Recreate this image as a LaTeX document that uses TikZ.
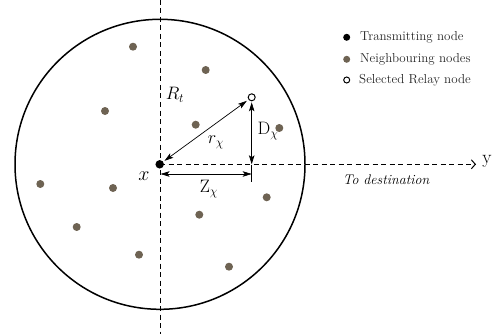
\RequirePackage{fix-cm}
\documentclass[tikz,border=0pt]{standalone}
\usepackage{fontspec}
\usetikzlibrary{arrows.meta}
\definecolor{nbrcol}{HTML}{6E6353}
\definecolor{legtext}{HTML}{262626}
\begin{document}
\begin{tikzpicture}[x=1pt,y=-1pt,
  nbr/.style={circle,fill=nbrcol,minimum size=8pt,inner sep=0pt},
  txnode/.style={circle,fill=black,minimum size=8.5pt,inner sep=0pt},
  relay/.style={circle,draw=black,fill=white,line width=1pt,minimum size=7pt,inner sep=0pt},
  axis/.style={dashed,dash pattern=on 5pt off 3.5pt,line width=0.8pt},
  dim/.style={line width=0.7pt,{Stealth[length=9pt,width=5.5pt,inset=2pt]}-{Stealth[length=9pt,width=5.5pt,inset=2pt]}},
  lab/.style={font=\fontsize{18}{20}\selectfont,inner sep=0pt},
  leg/.style={font=\fontsize{13}{15}\selectfont,text=legtext,anchor=west,inner sep=0pt}]
\useasboundingbox (0,0) rectangle (497,334);
% axes
\coordinate (vtop) at (160,0);
\coordinate (vbot) at (160,334);
\coordinate (yend) at (476,164.3);
\draw[axis] (vtop) -- (vbot);
% range circle
\node[circle,draw,line width=1.5pt,minimum size=290pt,inner sep=0pt] (range) at (160,164.3) {};
\draw[axis,-{Straight Barb[length=4pt,width=9pt,line width=1pt]}] (160,164.3) -- (yend);
% nodes
\node[txnode] (tx) at (159.7,164.3) {};
\node[relay] (rl) at (251.7,97.3) {};
\foreach \i/\px/\py in {1/133/46.7,2/205.7/70,3/105/111,4/195.7/124.7,5/279.3/128,6/40.3/184,7/113/188,8/266.7/197.3,9/199.3/214.7,10/76.7/227,11/139/254.7,12/229/266.7}
  \node[nbr] (n\i) at (\px,\py) {};
% dimension arrows
\coordinate (dfoot) at (251.7,164.3);
\coordinate (zs) at (160.5,174);
\coordinate (ze) at (251.7,174);
\coordinate (tickt) at (251.7,165);
\coordinate (tickb) at (251.7,182);
\draw[dim,shorten <=1.5pt,shorten >=2pt] (tx) -- (rl);
\draw[dim,shorten <=1pt] (rl) -- (dfoot);
\draw[dim] (zs) -- (ze);
\draw[line width=0.5pt] (tickt) -- (tickb);
% labels
\node[lab] (lrt) at (175,95) {$R_t$};
\node[lab] (lr) at (216,142) {$r_\chi$};
\node[lab] (ld) at (268,131) {$\mathrm{D}_\chi$};
\node[lab,font=\fontsize{20}{22}\selectfont] (lx) at (144,176) {$x$};
\node[lab] (lz) at (209,189) {$\mathrm{Z}_\chi$};
\node[lab,font=\fontsize{19}{21}\selectfont] (ly) at (487,161) {y};
\node[font=\fontsize{14}{16}\selectfont\itshape,inner sep=0pt] (ldest) at (386,180) {To destination};
% legend
\node[txnode,minimum size=7pt] (k1) at (346.7,37.3) {};
\node[nbr,minimum size=7pt] (k2) at (346.7,59.3) {};
\node[relay,minimum size=6pt] (k3) at (346.7,80) {};
\node[leg] (t1) at (360,37) {Transmitting node};
\node[leg] (t2) at (360,59) {Neighbouring nodes};
\node[leg] (t3) at (359,80) {Selected Relay node};
\end{tikzpicture}
\end{document}
